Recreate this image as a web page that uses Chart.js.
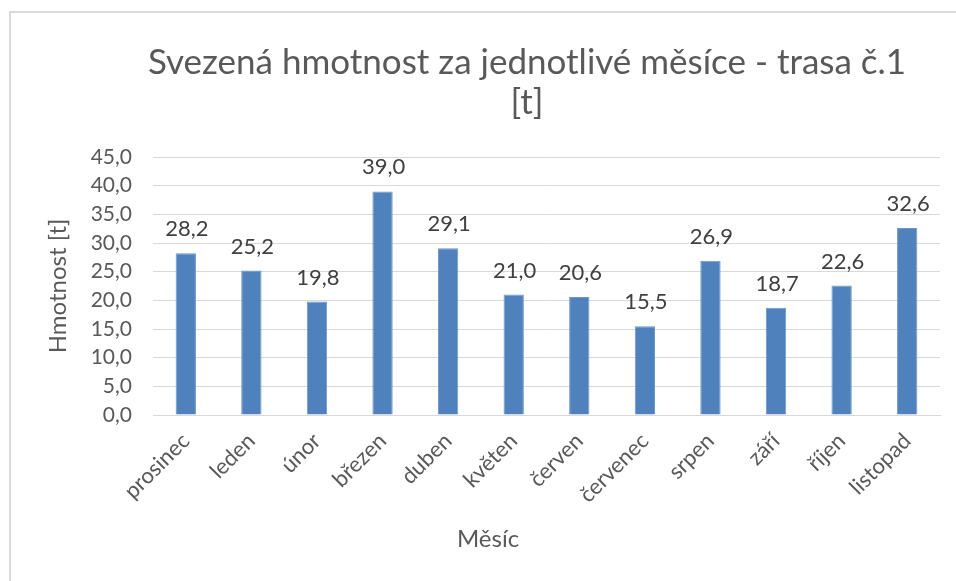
<!DOCTYPE html>
<html>
<head>
<meta charset="utf-8">
<script src="https://cdn.jsdelivr.net/npm/chart.js@4"></script>
<style>
  html, body { margin: 0; padding: 0; background: #fff; }
  #wrap { position: relative; width: 956px; height: 581px; overflow: hidden; }
  #frame { position: absolute; left: 9px; top: 11px; width: 1000px; height: 700px; border: 2px solid #d9d9d9; box-sizing: border-box; }
  #chart { position: absolute; left: 0; top: 0; }
</style>
</head>
<body>
<div id="wrap">
  <div id="frame"></div>
  <canvas id="chart" width="956" height="581"></canvas>
</div>
<script>
// --- Data ---
const months = ["prosinec", "leden", "únor", "březen", "duben", "květen", "červen",
  "červenec", "srpen", "září", "říjen", "listopad"];
const weights = [28.2, 25.2, 19.8, 39.0, 29.1, 21.0, 20.6, 15.5, 26.9, 18.7, 22.6, 32.6];
const titleLines = ["Svezená hmotnost za jednotlivé měsíce - trasa č.1", "[t]"];
const xTitle = "Měsíc";
const yTitle = "Hmotnost [t]";

const FONT = "Lato, 'Open Sans', sans-serif";
const GREY = "#595959";
const fmt = (v) => v.toFixed(1).replace(".", ",");

// --- Titles (drawn by hand, Excel centres them off the plot) ---
const chartTitles = {
  id: "chartTitles",
  afterDraw(chart) {
    const ctx = chart.ctx;
    ctx.save();
    ctx.fillStyle = GREY;
    ctx.textAlign = "center";
    ctx.textBaseline = "middle";
    ctx.font = "35px " + FONT;
    titleLines.forEach((line, i) => ctx.fillText(line, 527, 63 + i * 40));
    ctx.font = "24px " + FONT;
    ctx.fillText(xTitle, 488, 539);
    ctx.restore();
  },
};

// --- Value labels above bars ---
const barLabels = {
  id: "barLabels",
  afterDatasetsDraw(chart) {
    const ctx = chart.ctx;
    const meta = chart.getDatasetMeta(0);
    ctx.save();
    ctx.font = "22px " + FONT;
    ctx.fillStyle = "#404040";
    ctx.textAlign = "center";
    ctx.textBaseline = "bottom";
    meta.data.forEach((bar, i) => {
      ctx.fillText(fmt(weights[i]), bar.x + 1, bar.y - 13);
    });
    ctx.restore();
  },
};

// --- Chart ---
const ctx = document.getElementById("chart").getContext("2d");
new Chart(ctx, {
  type: "bar",
  data: {
    labels: months,
    datasets: [
      {
        data: weights,
        backgroundColor: "#4f81bd",
        borderColor: "#6d97c9",
        borderWidth: 1,
        categoryPercentage: 1,
        barPercentage: 0.31,
      },
    ],
  },
  plugins: [barLabels, chartTitles],
  options: {
    responsive: false,
    animation: false,
    layout: { padding: { left: 40, right: 16, top: 157, bottom: 27 } },
    plugins: {
      legend: { display: false },
      tooltip: { enabled: false },
      title: { display: false },
    },
    scales: {
      x: {
        afterFit: (scale) => { scale.height = 139; },
        grid: { display: false, drawTicks: false },
        border: { color: "#d9d9d9", width: 1 },
        ticks: {
          color: GREY,
          font: { family: FONT, size: 22 },
          minRotation: 45,
          maxRotation: 45,
          padding: 13,
        },
      },
      y: {
        min: 0,
        max: 45,
        afterFit: (scale) => { scale.width = 113; },
        grid: { color: "#d9d9d9", lineWidth: 1, drawTicks: false },
        border: { display: false },
        ticks: {
          stepSize: 5,
          color: GREY,
          font: { family: FONT, size: 21 },
          padding: 21,
          callback: (v) => fmt(v),
        },
        title: {
          display: true,
          text: yTitle,
          color: GREY,
          font: { family: FONT, size: 24 },
          padding: { top: 4, bottom: 0 },
        },
      },
    },
  },
});
</script>
</body>
</html>
